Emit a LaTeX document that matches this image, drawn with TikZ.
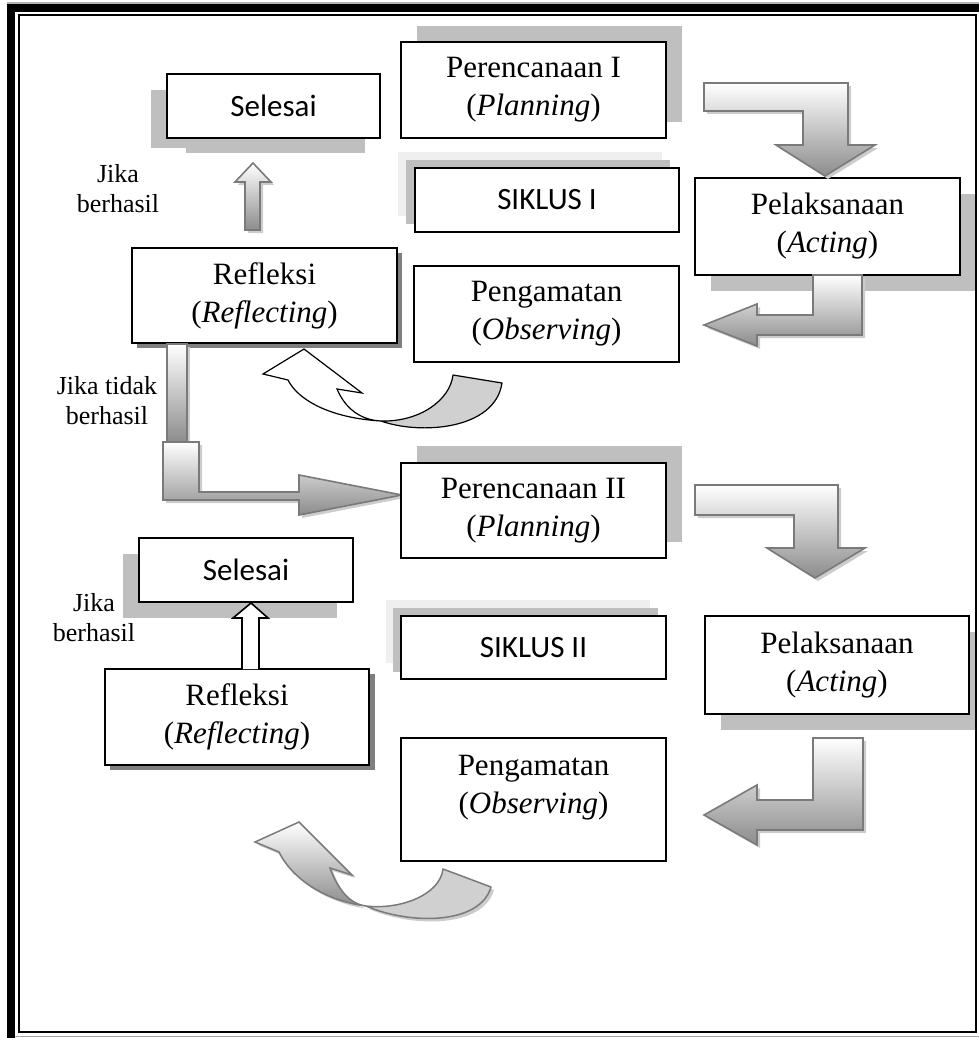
\documentclass[tikz,border=0pt]{standalone}
\usepackage{fontspec}
\setmainfont{Liberation Serif}
\newfontfamily\calibri{Carlito}
\usetikzlibrary{shadows}

\definecolor{shadowgray}{HTML}{BFBFBF}
\definecolor{paleshadow}{HTML}{EFEFEF}
\definecolor{darkshadow}{HTML}{7F7F7F}
\definecolor{arrowline}{HTML}{7A7A7A}
\definecolor{backgray}{HTML}{D0D0D0}

\tikzset{
  box/.style={draw=black, line width=1.8pt, fill=white, inner sep=0pt, align=center,
    font=\fontsize{31}{38}\selectfont},
  sbox/.style={box, font=\calibri\fontsize{31}{38}\selectfont},
  note/.style={inner sep=0pt, align=center, font=\fontsize{26}{30}\selectfont},
  blockarrow/.style={draw=arrowline, line width=1.6pt, line join=miter,
    top color=white, bottom color=black!45},
  arrowshade/.style={fill=black!20},
}

\begin{document}
\begin{tikzpicture}[x=1pt,y=-1pt]
\useasboundingbox (0,0) rectangle (979,1038);

% ---------- box shadows ----------
\fill[shadowgray] (417,26) rectangle (682,122);
\fill[paleshadow] (398,152) rectangle (662,216);
\fill[shadowgray] (406,160) rectangle (670,224);
\fill[shadowgray] (711,194) rectangle (976,291);
\fill[darkshadow] (137,253) rectangle (402,348);
\fill[shadowgray] (151,90) rectangle (365,148);
\fill[shadowgray] (186,138) rectangle (365,153);
\fill[shadowgray] (417,446) rectangle (682,542);
\fill[paleshadow] (386,600) rectangle (650,663);
\fill[shadowgray] (393,608) rectangle (658,672);
\fill[shadowgray] (721,632) rectangle (976,730);
\fill[darkshadow] (110,674) rectangle (375,770);
\fill[shadowgray] (123,554) rectangle (337,618);

% ---------- cycle I ----------
\node[box, minimum width=265pt, minimum height=96pt] (plan1) at (533.5,90) {Perencanaan I\\(\textit{Planning})};
\node[sbox, minimum width=264pt, minimum height=64pt] (cyc1) at (547,200) {SIKLUS I};
\node[box, minimum width=265pt, minimum height=97pt] (act1) at (827.5,226.5) {Pelaksanaan\\(\textit{Acting})};
\node[box, minimum width=265pt, minimum height=96pt] (obs1) at (546.5,314) {Pengamatan\\(\textit{Observing})};
\node[box, minimum width=265pt, minimum height=95pt] (ref1) at (264.5,295.5) {Refleksi\\(\textit{Reflecting})};
\node[sbox, minimum width=213pt, minimum height=64pt] (done1) at (273.5,106) {Selesai};
\node[note] (yes1) at (118,189) {Jika\\berhasil};
\node[note] (no1) at (107,401) {Jika tidak\\berhasil};

% planning -> acting
\fill[arrowshade, shift={(3,3)}] (704,83) -- (848,83) -- (848,145) -- (875,145) -- (825,176) -- (776,145) -- (803,145) -- (803,111) -- (704,111) -- cycle;
\path[blockarrow] (704,83) -- (848,83) -- (848,145) -- (875,145) -- (825,176) -- (776,145) -- (803,145) -- (803,111) -- (704,111) -- cycle;

% acting -> observing
\fill[arrowshade, shift={(3,3)}] (813,275) -- (862,275) -- (862,335) -- (757,335) -- (757,346) -- (704,325) -- (757,304) -- (757,315) -- (813,315) -- cycle;
\path[blockarrow] (813,275) -- (862,275) -- (862,335) -- (757,335) -- (757,346) -- (704,325) -- (757,304) -- (757,315) -- (813,315) -- cycle;

% reflecting -> done
\fill[arrowshade, shift={(3,3)}] (245,230) -- (245,182) -- (235,182) -- (253,163) -- (271,182) -- (260,182) -- (260,230) -- cycle;
\path[blockarrow] (245,230) -- (245,182) -- (235,182) -- (253,163) -- (271,182) -- (260,182) -- (260,230) -- cycle;

% observing -> reflecting (curved ribbon)
\draw[black, line width=1.2pt, fill=backgray, line join=round]
  (381,421) .. controls (420,422) and (450,400) .. (453,375) -- (502,383)
  .. controls (495,430) and (420,435) .. (381,421) -- cycle;
\draw[black, line width=1.2pt, fill=white, line join=miter]
  (304,349) -- (362,393) -- (337,389) .. controls (345,408) and (360,420) .. (381,421)
  .. controls (330,418) and (298,400) .. (288,380) -- (263,374) -- cycle;

% reflecting -> planning II (elbow)
\fill[arrowshade, shift={(3,3)}] (167,344) rectangle (187,442);
\fill[arrowshade, shift={(3,3)}] (163,442) -- (199,442) -- (199,492) -- (299,492) -- (299,475) -- (402,495) -- (299,515) -- (299,500) -- (163,500) -- cycle;
\path[blockarrow] (167,344) rectangle (187,442);
\path[blockarrow] (163,442) -- (199,442) -- (199,492) -- (299,492) -- (299,475) -- (402,495) -- (299,515) -- (299,500) -- (163,500) -- cycle;

% ---------- cycle II ----------
\node[box, minimum width=265pt, minimum height=95pt] (plan2) at (533.5,510.5) {Perencanaan II\\(\textit{Planning})};
\node[sbox, minimum width=265pt, minimum height=63pt] (cyc2) at (533.5,647.5) {SIKLUS II};
\node[box, minimum width=264pt, minimum height=98pt] (act2) at (837,665) {Pelaksanaan\\(\textit{Acting})};
\node[box, minimum width=265pt, minimum height=123pt] (obs2) at (533.5,799.5) {};
\node[inner sep=0pt, align=center, font=\fontsize{31}{38}\selectfont] (obs2text) at ([yshift=12pt]obs2.center) {Pengamatan\\(\textit{Observing})};
\node[box, minimum width=264pt, minimum height=96pt] (ref2) at (237,717) {Refleksi\\(\textit{Reflecting})};
\node[sbox, minimum width=214pt, minimum height=64pt] (done2) at (246,570) {Selesai};
\node[note] (yes2) at (94,618) {Jika\\berhasil};

% planning II -> acting II
\fill[arrowshade, shift={(3,3)}] (695,485) -- (838,485) -- (838,548) -- (865,548) -- (815,578) -- (767,548) -- (794,548) -- (794,515) -- (695,515) -- cycle;
\path[blockarrow] (695,485) -- (838,485) -- (838,548) -- (865,548) -- (815,578) -- (767,548) -- (794,548) -- (794,515) -- (695,515) -- cycle;

% acting II -> observing II
\fill[arrowshade, shift={(3,3)}] (813,738) -- (863,738) -- (863,830) -- (757,830) -- (757,845) -- (704,815) -- (757,785) -- (757,800) -- (813,800) -- cycle;
\path[blockarrow] (813,738) -- (863,738) -- (863,830) -- (757,830) -- (757,845) -- (704,815) -- (757,785) -- (757,800) -- (813,800) -- cycle;

% reflecting II -> done II
\draw[black, line width=1.6pt, fill=white, line join=miter] (242,669) -- (242,618) -- (233,618) -- (251,603) -- (268,618) -- (259,618) -- (259,669);

% observing II -> reflecting II (curved ribbon)
\begin{scope}[shift={(3,3)}]
  \fill[arrowshade] (366,906) .. controls (400,910) and (440,895) .. (443,869) -- (491,887)
    .. controls (480,925) and (410,925) .. (366,906) -- cycle;
  \fill[arrowshade] (299,822) -- (352,875) -- (330,868) .. controls (338,890) and (350,904) .. (366,906)
    .. controls (320,900) and (290,875) .. (279,852) -- (255,842) -- cycle;
\end{scope}
\draw[draw=arrowline, line width=1.5pt, fill=backgray, line join=round]
  (366,906) .. controls (400,910) and (440,895) .. (443,869) -- (491,887)
  .. controls (480,925) and (410,925) .. (366,906) -- cycle;
\path[blockarrow, line width=1.5pt]
  (299,822) -- (352,875) -- (330,868) .. controls (338,890) and (350,904) .. (366,906)
  .. controls (320,900) and (290,875) .. (279,852) -- (255,842) -- cycle;

% ---------- page frame ----------
\fill[black!30] (7,2) rectangle (979,4);
\fill[black] (7,4) rectangle (979,12);
\fill[black] (7,4) rectangle (15,1038);
\draw[line width=2pt] (19,15) rectangle (976,1032);
\draw[black!35, line width=1pt] (15,1036.5) -- (979,1036.5);
\end{tikzpicture}
\end{document}
